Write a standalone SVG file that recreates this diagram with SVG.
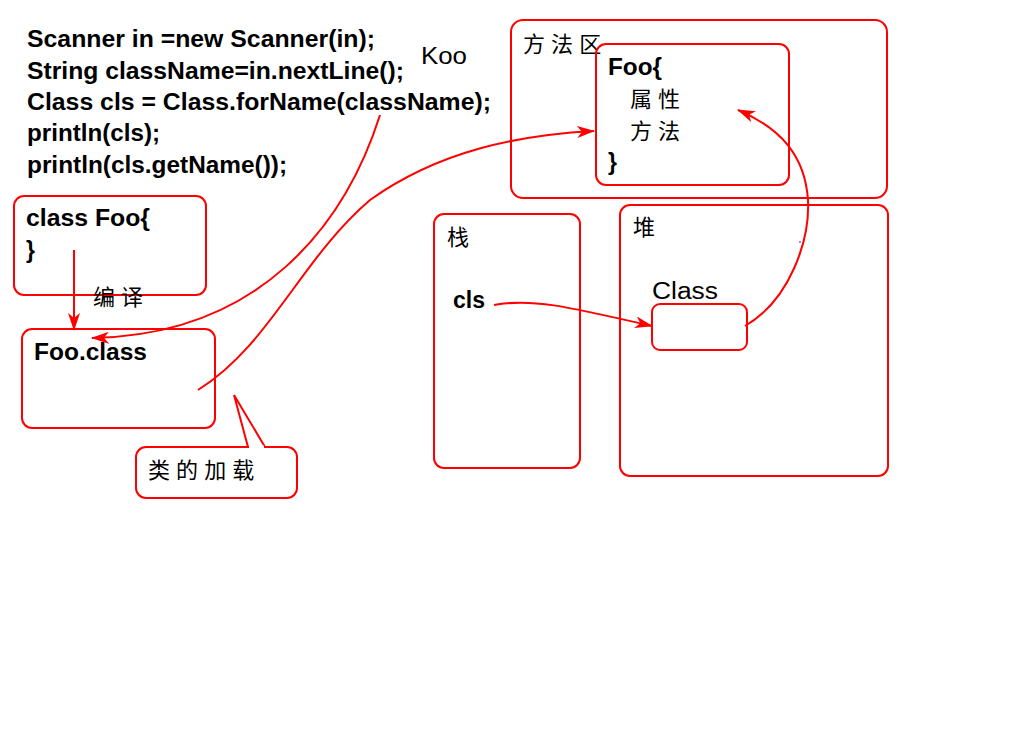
<svg xmlns="http://www.w3.org/2000/svg" width="1024" height="738" viewBox="0 0 1024 738">
<style>
.box{fill:none;stroke:#ff0000;stroke-width:2}
.code{font-family:"Liberation Sans",Arial,sans-serif;font-weight:bold;font-size:23px;fill:#000}
.lbl{font-family:"Liberation Sans",Arial,sans-serif;font-size:23px;fill:#000}
.cjk{font-family:"Liberation Sans","Noto Sans CJK SC",sans-serif;font-size:22px;fill:#000}
.conn{fill:none;stroke:#ff0000;stroke-width:2}
</style>
<defs>
<marker id="ah" markerWidth="18" markerHeight="12" refX="17" refY="6" orient="auto" markerUnits="userSpaceOnUse">
<path d="M0,0 L18,6 L0,12 L5,6 Z" fill="#ff0000"/>
</marker>
</defs>
<rect width="1024" height="738" fill="#ffffff"/>
<g id="code">
<text class="code" x="27" y="47" textLength="348" lengthAdjust="spacingAndGlyphs">Scanner in =new Scanner(in);</text>
<text class="code" x="27" y="79" textLength="377" lengthAdjust="spacingAndGlyphs">String className=in.nextLine();</text>
<text class="code" x="27" y="110" textLength="464" lengthAdjust="spacingAndGlyphs">Class cls = Class.forName(className);</text>
<text class="code" x="27" y="141" textLength="133" lengthAdjust="spacingAndGlyphs">println(cls);</text>
<text class="code" x="27" y="173" textLength="260" lengthAdjust="spacingAndGlyphs">println(cls.getName());</text>
</g>
<g id="koo"><text class="lbl" x="421" y="64" textLength="46" lengthAdjust="spacingAndGlyphs">Koo</text></g>
<g id="source">
<rect class="box" x="14" y="196" width="192" height="99" rx="10"/>
<text class="code" x="26" y="226" textLength="124" lengthAdjust="spacingAndGlyphs">class Foo{</text>
<text class="code" x="26" y="258">}</text>
</g>
<g id="compile-label"><text class="cjk" x="93" y="305">编 译</text></g>
<g id="fooclass">
<rect class="box" x="22" y="329" width="193" height="99" rx="10"/>
<text class="code" x="34" y="360" textLength="113" lengthAdjust="spacingAndGlyphs">Foo.class</text>
</g>
<g id="callout">
<path d="M248,447 L234,395 L265,447" fill="none" stroke="#ff0000" stroke-width="2"/>
<rect class="box" x="136" y="447" width="161" height="51" rx="10"/>
<line x1="249" y1="447" x2="264" y2="447" stroke="#ffffff" stroke-width="3"/>
<text class="cjk" x="148" y="478">类 的 加 载</text>
</g>
<g id="method-area">
<rect class="box" x="511" y="20" width="376" height="178" rx="12"/>
<text class="cjk" x="523" y="52">方 法 区</text>
</g>
<g id="foo-meta">
<rect class="box" x="596" y="44" width="193" height="141" rx="10" fill="#ffffff"/>
<text class="code" x="608" y="75" textLength="54" lengthAdjust="spacingAndGlyphs">Foo{</text>
<text class="cjk" x="630" y="107">属 性</text>
<text class="cjk" x="630" y="139">方 法</text>
<text class="code" x="608" y="170">}</text>
</g>
<g id="stack">
<rect class="box" x="434" y="214" width="146" height="254" rx="10"/>
<text class="cjk" x="447" y="245">栈</text>
<text class="code" x="453" y="308">cls</text>
</g>
<g id="heap">
<rect class="box" x="620" y="205" width="268" height="271" rx="10"/>
<text class="cjk" x="633" y="235">堆</text>
<text class="lbl" x="652" y="299" textLength="66" lengthAdjust="spacingAndGlyphs">Class</text>
<circle cx="800" cy="242" r="0.8" fill="#0000ff"/>
</g>
<g id="class-obj">
<rect class="box" x="652" y="304" width="95" height="46" rx="8"/>
</g>
<g id="connectors">
<line class="conn" x1="74" y1="250" x2="74" y2="330" marker-end="url(#ah)"/>
<path class="conn" d="M380,115 C345,225 260,335 92,338" marker-end="url(#ah)"/>
<path class="conn" d="M198,390 C270,345 300,260 370,200 C440,150 520,135 594,131" marker-end="url(#ah)"/>
<path class="conn" d="M494,305 C530,298 565,306 652,326" marker-end="url(#ah)"/>
<path class="conn" d="M745,326 C790,300 810,240 808,200 C805,155 780,128 738,110" marker-end="url(#ah)"/>
</g>
</svg>
